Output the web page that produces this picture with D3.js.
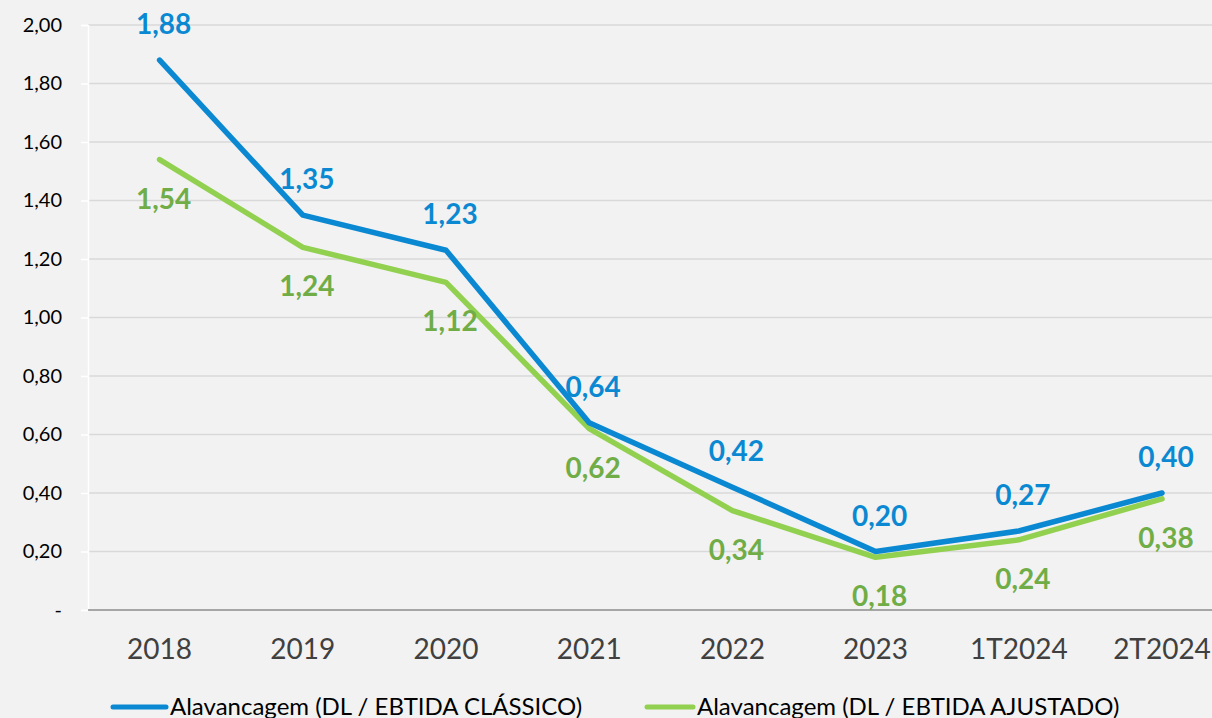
<!DOCTYPE html>
<html>
<head>
<meta charset="utf-8">
<script src="https://cdn.jsdelivr.net/npm/d3@7"></script>
<style>
  html, body { margin: 0; padding: 0; background: #f2f2f2; }
  svg { display: block; font-family: Lato, "Open Sans", sans-serif; }
</style>
</head>
<body>
<svg id="chart" width="1212" height="718"></svg>
<script>
const categories = ["2018", "2019", "2020", "2021", "2022", "2023", "1T2024", "2T2024"];
const classico = [1.88, 1.35, 1.23, 0.64, 0.42, 0.20, 0.27, 0.40];
const ajustado = [1.54, 1.24, 1.12, 0.62, 0.34, 0.18, 0.24, 0.38];
const yTicks = [0, 0.2, 0.4, 0.6, 0.8, 1.0, 1.2, 1.4, 1.6, 1.8, 2.0];
const seriesNames = ["Alavancagem (DL / EBTIDA CLÁSSICO)", "Alavancagem (DL / EBTIDA AJUSTADO)"];

(function () {
const svg = d3.select("#chart");
const W = 1212, H = 718;
svg.append("rect").attr("width", W).attr("height", H).attr("fill", "#f2f2f2");

const plotLeft = 88, plotTop = 25, plotBottom = 610;
const x = d3.scalePoint().domain(categories).range([plotLeft + 71.6, plotLeft + 71.6 + 7 * 143.2]);
const y = d3.scaleLinear().domain([0, 2]).range([plotBottom, plotTop]);

const fmt = v => v === 0 ? "-" : d3.format(".2f")(v).replace(".", ",");

// horizontal gridlines
svg.append("g").selectAll("line").data(yTicks.filter(d => d > 0)).join("line")
  .attr("x1", plotLeft).attr("x2", W)
  .attr("y1", d => y(d)).attr("y2", d => y(d))
  .attr("stroke", "#d9d9d9").attr("stroke-width", 1.3);

// y axis
const yAxis = svg.append("g").attr("transform", `translate(${plotLeft},0)`)
  .call(d3.axisLeft(y).tickValues(yTicks).tickFormat(fmt).tickSize(7).tickPadding(19));
yAxis.select(".domain").attr("stroke", "#ffffff").attr("stroke-width", 1.5);
yAxis.selectAll(".tick line").attr("stroke", "#ffffff").attr("stroke-width", 1.5);
yAxis.selectAll(".tick text").attr("fill", "#000").style("font-size", "20px")
  .style("font-family", "Lato, sans-serif");

// x baseline
svg.append("line").attr("x1", plotLeft).attr("x2", W).attr("y1", plotBottom).attr("y2", plotBottom)
  .attr("stroke", "#8c8c8c").attr("stroke-width", 1.3);

// x labels
svg.append("g").selectAll("text").data(categories).join("text")
  .attr("x", d => x(d)).attr("y", 659)
  .attr("text-anchor", "middle").attr("fill", "#404040")
  .style("font-size", "28px")
  .text(d => d);

const line = d3.line().x((d, i) => x(categories[i])).y(d => y(d));

const series = [
  { values: ajustado, color: "#92d050", label: "#70ad47", dy: 38 },
  { values: classico, color: "#0a89d2", label: "#0a89d2", dy: -37 }
];

series.forEach(s => {
  svg.append("path").datum(s.values)
    .attr("d", line).attr("fill", "none")
    .attr("stroke", s.color).attr("stroke-width", 5.5)
    .attr("stroke-linejoin", "round").attr("stroke-linecap", "round");
});

series.slice().reverse().forEach(s => {
  svg.append("g").selectAll("text").data(s.values).join("text")
    .attr("x", (d, i) => x(categories[i]) + 4)
    .attr("y", d => y(d) + s.dy)
    .attr("dominant-baseline", "central")
    .attr("text-anchor", "middle")
    .attr("fill", s.label)
    .style("font-size", "28px").style("font-weight", "bold")
    .text(d => fmt(d));
});

// legend
const legend = [
  { name: seriesNames[0], color: "#0a89d2", x1: 113, x2: 166, tx: 170 },
  { name: seriesNames[1], color: "#92d050", x1: 647, x2: 693, tx: 697 }
];
legend.forEach(l => {
  svg.append("line").attr("x1", l.x1).attr("x2", l.x2).attr("y1", 707).attr("y2", 707)
    .attr("stroke", l.color).attr("stroke-width", 5).attr("stroke-linecap", "round");
  svg.append("text").attr("x", l.tx).attr("y", 715)
    .attr("fill", "#000").style("font-size", "24px").text(l.name);
});
})();
</script>
</body>
</html>
